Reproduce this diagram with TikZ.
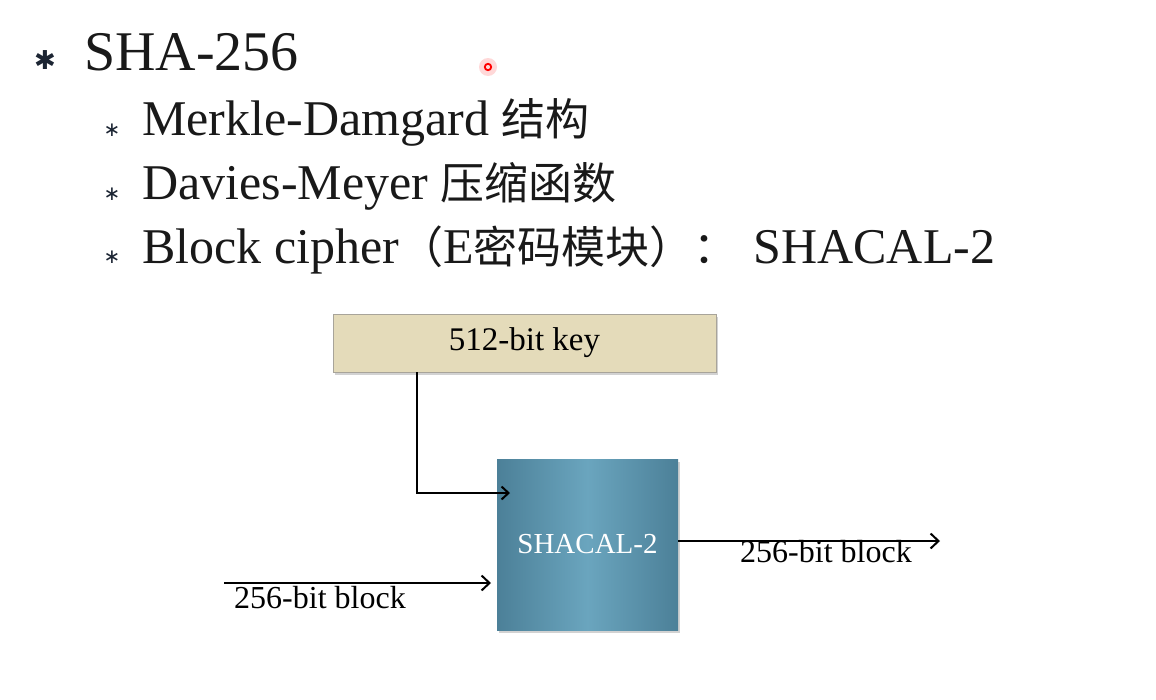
\documentclass[tikz,border=0pt]{standalone}
\usepackage{fontspec}
\setmainfont{Liberation Serif}
\newfontfamily\cjk{Noto Sans CJK SC}
\newfontfamily\symf{DejaVu Sans}
\usetikzlibrary{arrows.meta,shadows}
\definecolor{bulletc}{HTML}{1C2533}
\definecolor{keyfill}{HTML}{E4DBBA}
\definecolor{keyedge}{HTML}{A8A49A}
\definecolor{cipherdark}{HTML}{4C8098}
\definecolor{cipherlight}{HTML}{6AA5BE}
\begin{document}
\begin{tikzpicture}[x=1pt,y=-1pt,
  bigbullet/.style={text=bulletc,inner sep=0pt,font=\symf\fontsize{26}{26}\selectfont},
  smallbullet/.style={text=bulletc,inner sep=0pt,font=\symf\fontsize{20}{20}\selectfont},
  titletext/.style={anchor=base west,inner sep=0pt,text=black!90,font=\fontsize{56}{60}\selectfont},
  itemtext/.style={anchor=base west,inner sep=0pt,text=black!90,font=\fontsize{50}{54}\selectfont},
  keybox/.style={draw=keyedge,line width=1pt,fill=keyfill,minimum width=383pt,minimum height=58pt,
     drop shadow={shadow xshift=2pt,shadow yshift=-3pt,opacity=0.35},font=\fontsize{33}{35}\selectfont},
  cipherbox/.style={minimum width=181pt,minimum height=171pt,left color=cipherdark,right color=cipherdark,
     middle color=cipherlight,drop shadow={shadow xshift=2pt,shadow yshift=-3pt,opacity=0.35},
     text=white,font=\fontsize{29}{31}\selectfont},
  flow/.style={line width=2.2pt,-{Straight Barb[length=8pt,width=15pt,line width=2pt]}},
  keyflow/.style={line width=2.2pt,-{Straight Barb[length=7pt,width=13pt,line width=2pt]}},
  lbl/.style={inner sep=0pt,anchor=base west,font=\fontsize{32}{34}\selectfont},
]
\useasboundingbox (0,0) rectangle (1156,699);
\fill[white] (0,0) rectangle (1156,699);
% laser pointer dot
\fill[red!25,opacity=0.6] (488,67) circle (9);
\draw[red,line width=1.8pt] (488,67) circle (3.2);
% bullets and text
\node[bigbullet] (b0) at (45,60) {✱};
\node[titletext] (t0) at (84,70) {SHA-256};
\node[smallbullet] (b1) at (112,130) {∗};
\node[itemtext] (t1) at (142,135) {Merkle-Damgard {\cjk\fontsize{44}{48}\selectfont 结构}};
\node[smallbullet] (b2) at (112,194) {∗};
\node[itemtext] (t2) at (142,199) {Davies-Meyer {\cjk\fontsize{44}{48}\selectfont 压缩函数}};
\node[smallbullet] (b3) at (112,257) {∗};
\node[itemtext] (t3) at (142,263) {Block cipher{\cjk\fontsize{44}{48}\selectfont （}E{\cjk\fontsize{44}{48}\selectfont 密码模块）：}\hspace{16pt}SHACAL-2};
% diagram
\node[keybox] (key) at (524.5,343) {512-bit key};
\node[cipherbox] (ciph) at (587.5,544.5) {SHACAL-2};
\coordinate (kdown) at (417,372);
\coordinate (kend) at (510,493);
\draw[keyflow] (kdown) |- (kend);
\coordinate (inS) at (224,583);
\coordinate (inE) at (491,583);
\draw[flow] (inS) -- (inE);
\node[lbl] (inlbl) at (234,608) {256-bit block};
\coordinate (outS) at (678,541);
\coordinate (outE) at (940,541);
\draw[flow] (outS) -- (outE);
\node[lbl] (outlbl) at (740,562) {256-bit block};
\end{tikzpicture}
\end{document}
